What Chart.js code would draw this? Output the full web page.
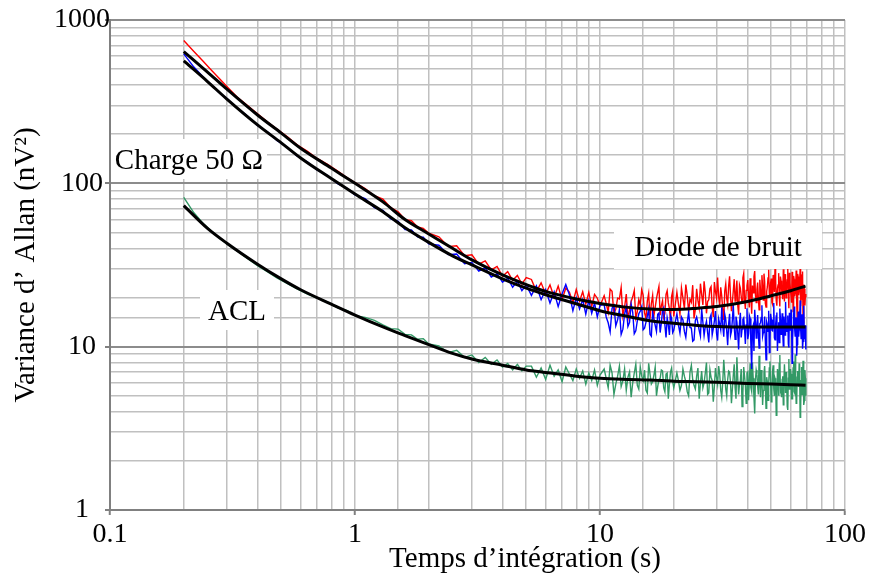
<!DOCTYPE html>
<html lang="fr">
<head>
<meta charset="utf-8">
<title>Variance d'Allan</title>
<script src="https://cdn.jsdelivr.net/npm/chart.js@4.4.1/dist/chart.umd.min.js"></script>
<style>
  html, body { margin: 0; padding: 0; background: #fff; }
  #graphe { display: block; }
</style>
</head>
<body>
<canvas id="graphe" width="870" height="575"></canvas>
<script>
// Temps d'intégration des mesures brutes (s)
const tauMesure = [
    0.2, 0.22, 0.24, 0.26, 0.28, 0.3, 0.33, 0.36, 0.4, 0.44, 0.48, 0.53, 0.58, 0.64, 0.7, 0.77, 0.85, 0.93, 1.0,
    1.1, 1.2, 1.3, 1.4, 1.5, 1.6, 1.7, 1.8, 1.9, 2.0,
    2.2, 2.4, 2.6, 2.8, 3.0, 3.2, 3.4, 3.6, 3.8, 4.0, 4.2, 4.4, 4.6, 4.8, 5.0,
    5.25, 5.5, 5.75, 6.0, 6.25, 6.5, 6.75, 7.0, 7.25, 7.5, 7.75, 8.0, 8.25, 8.5, 8.75, 9.0, 9.25, 9.5, 9.75, 10.0,
    10.4, 10.8, 11.2, 11.6, 12.0, 12.4, 12.8, 13.2, 13.6, 14.0, 14.4, 14.8, 15.2, 15.6, 16.0, 16.4, 16.8, 17.2, 17.6, 18.0, 18.4, 18.8, 19.2, 19.6, 20.0,
    20.6, 21.2, 21.8, 22.4, 23.0, 23.6, 24.2, 24.8, 25.4, 26.0,
    26.6, 27.2, 27.8, 28.4, 29.0, 29.6, 30.2, 30.8, 31.4, 32.0,
    32.6, 33.2, 33.8, 34.4, 35.0, 35.6, 36.2, 36.8, 37.4, 38.0,
    38.6, 39.2, 39.8, 40.4, 41.0, 41.6, 42.2, 42.8, 43.4, 44.0,
    44.6, 45.2, 45.8, 46.4, 47.0, 47.6, 48.2, 48.8, 49.4, 50.0,
    50.6, 51.2, 51.8, 52.4, 53.0, 53.6, 54.2, 54.8, 55.4, 56.0,
    56.6, 57.2, 57.8, 58.4, 59.0, 59.6, 60.2, 60.8, 61.4, 62.0,
    62.6, 63.2, 63.8, 64.4, 65.0, 65.6, 66.2, 66.8, 67.4, 68.0,
    68.6, 69.2
];

// Diode de bruit (rouge), nV²
const mesureDiode = [
    748, 642, 559, 491, 437, 392, 338, 304, 267, 237, 215, 193, 172, 157, 142, 131, 119, 108, 101,
    93, 84, 80, 71, 67, 60, 59, 54, 53, 49.5,
    47, 41, 41.5, 36, 36.5, 32, 33.5, 29.5, 31, 27, 28.8, 25.5, 27.3, 24.2, 26.5,
    25.8, 21.8, 24.6, 21.0, 23.9, 20.0, 23.5, 19.4, 22.8, 21.6, 18.6, 22.4, 19.0, 21.7, 18.2, 21.5, 17.6, 20.9, 19.8, 17.8,
    20.5, 16.2, 21.8, 17.0, 19.6, 15.4, 21.0, 16.8, 20.2, 15.0, 19.4, 22.3, 16.1, 19.0, 14.8, 20.6, 17.4, 21.5, 15.6, 19.1, 16.0, 22.0, 17.1, 20.3, 15.3,
    21.5, 15.8, 19.9, 24.0, 16.3, 18.7, 14.9, 22.6, 17.2, 20.8,
    25.1, 16.0, 19.4, 23.3, 15.2, 21.7, 26.5, 17.8, 20.4, 14.6,
    24.2, 18.1, 27.0, 16.5, 21.9, 19.0, 25.4, 15.7, 22.8, 18.4,
    28.1, 17.0, 23.6, 20.1, 26.2, 15.9, 21.4, 29.0, 18.6, 24.7,
    16.8, 22.3, 27.4, 19.3, 25.0, 17.5, 23.2, 29.6, 20.0, 26.1,
    18.2, 24.4, 30.3, 19.1, 22.7, 28.2, 17.6, 25.3, 21.0, 29.8,
    18.9, 26.6, 22.1, 30.1, 17.2, 24.8, 20.5, 28.7, 16.4, 25.9,
    21.3, 29.3, 15.1, 26.8, 22.0, 30.0, 19.6, 27.5, 14.0, 24.0,
    17.9, 21.0
];

// Charge 50 Ω (bleu), nV²
const mesureCharge = [
    620, 515, 448, 399, 358, 330, 289, 262, 226, 206, 183, 166, 147, 135, 121, 112, 99.5, 92.8, 85,
    80.5, 71, 68.2, 60.5, 58.6, 52.1, 51.9, 47.0, 46.8, 42.6,
    41.8, 36.6, 36.9, 32.2, 32.8, 29.0, 30.4, 26.7, 28.0, 24.8, 26.3, 23.1, 25.2, 22.0, 23.9,
    20.6, 23.6, 19.4, 22.4, 18.5, 21.7, 17.6, 21.0, 24.0, 20.8, 16.6, 19.9, 17.0, 19.4, 15.8, 19.2, 16.0, 18.5, 15.2, 17.9,
    18.1, 14.0, 17.2, 13.4, 16.9, 12.8, 17.5, 14.1, 16.2, 12.5, 15.9, 17.6, 13.0, 15.4, 11.9, 16.3, 13.5, 15.8, 12.2, 16.6, 13.6, 15.0, 11.8, 14.9, 12.6,
    15.9, 12.1, 14.6, 11.4, 16.3, 13.0, 11.0, 15.2, 12.6, 17.0,
    11.7, 14.3, 10.6, 15.7, 12.9, 16.5, 10.9, 13.8, 17.4, 11.5,
    14.7, 10.2, 15.9, 12.4, 18.0, 11.1, 14.2, 9.6, 16.1, 12.8,
    15.0, 10.4, 17.2, 12.0, 14.9, 7.3, 13.5, 16.8, 11.3, 15.6,
    9.8, 14.0, 17.9, 12.2, 15.3, 8.3, 13.7, 16.6, 10.7, 14.8,
    12.5, 18.5, 11.0, 15.4, 9.4, 14.1, 17.1, 11.9, 16.0, 10.1,
    13.9, 18.8, 12.3, 15.5, 9.9, 14.6, 16.9, 7.9, 13.2, 17.6,
    11.6, 15.1, 10.3, 16.4, 12.7, 19.2, 11.2, 15.8, 10.8, 17.8,
    12.0, 9.6
];

// ACL (vert), nV²
const mesureACL = [
    82, 66, 56.8, 50.9, 46.2, 42.6, 38.5, 35.0, 31.3, 28.7, 26.4, 24.3, 22.6, 21.0, 19.8, 18.8, 17.3, 16.6, 15.5,
    15.1, 14.5, 13.6, 12.9, 12.8, 11.9, 11.8, 11.1, 11.2, 10.4,
    10.1, 9.2, 9.5, 8.6, 8.9, 8.0, 8.6, 7.8, 8.3, 7.5, 7.9, 7.2, 7.8, 7.1, 7.6,
    7.6, 6.5, 7.4, 6.3, 7.7, 6.6, 7.2, 6.1, 7.5, 6.8, 6.2, 7.3, 6.4, 7.1, 5.9, 6.9, 6.2, 7.2, 5.8, 6.7,
    7.3, 5.6, 6.9, 5.9, 7.6, 6.2, 5.4, 7.0, 6.0, 7.8, 5.5, 6.6, 7.2, 5.2, 6.8, 6.1, 7.5, 5.7, 6.4, 7.1, 5.3, 6.9, 5.9, 7.4, 5.6,
    6.9, 5.4, 7.3, 6.1, 5.0, 7.7, 5.8, 6.6, 4.8, 7.1,
    6.0, 8.0, 5.2, 6.5, 4.6, 7.4, 5.9, 6.8, 4.9, 8.3,
    5.5, 6.3, 7.0, 4.5, 6.7, 5.6, 8.6, 5.1, 6.2, 4.3,
    7.5, 5.8, 6.9, 4.7, 7.9, 5.3, 6.4, 3.9, 7.2, 5.7,
    8.8, 4.9, 6.6, 5.4, 7.6, 4.2, 6.1, 5.9, 8.1, 4.6,
    7.0, 5.5, 6.4, 3.8, 7.3, 5.0, 8.9, 5.6, 6.3, 4.4,
    7.8, 5.2, 6.0, 4.1, 8.4, 5.7, 6.8, 4.8, 7.4, 5.3,
    9.0, 4.5, 6.5, 5.9, 7.9, 3.7, 6.2, 5.1, 8.2, 4.4,
    7.2, 5.0
];

// Mesures intermédiaires au-delà de 10 s (même ordre que ci-dessus)
const tauComplement = [
    10.6, 11.0, 11.4, 11.8, 12.2, 12.6, 13.0, 13.4, 13.8, 14.2, 14.6, 15.0, 15.4, 15.8, 16.2, 16.6, 17.0, 17.4, 17.8, 18.2, 18.6, 19.0, 19.4, 19.8,
    20.9, 21.5, 22.1, 22.7, 23.3, 23.9, 24.5, 25.1, 25.7, 26.3,
    26.9, 27.5, 28.1, 28.7, 29.3, 29.9, 30.5, 31.1, 31.7, 32.3,
    32.9, 33.5, 34.1, 34.7, 35.3, 35.9, 36.5, 37.1, 37.7, 38.3,
    38.9, 39.5, 40.1, 40.7, 41.3, 41.9, 42.5, 43.1, 43.7, 44.3,
    44.9, 45.5, 46.1, 46.7, 47.3, 47.9, 48.5, 49.1, 49.7, 50.3,
    50.9, 51.5, 52.1, 52.7, 53.3, 53.9, 54.5, 55.1, 55.7, 56.3,
    56.9, 57.5, 58.1, 58.7, 59.3, 59.9, 60.5, 61.1, 61.7, 62.3,
    62.9, 63.5, 64.1, 64.7, 65.3, 65.9, 66.5, 67.1, 67.7, 68.3,
    68.9
];
const complementDiode = [
    18.4, 22.5, 15.9, 19.8, 23.0, 17.5, 14.7, 18.9, 22.1, 16.4, 18.0, 20.7, 14.9, 21.2, 18.3, 15.5, 19.7, 23.4, 17.8, 15.1, 20.9, 18.6, 14.6, 21.8,
    18.3, 22.9, 17.1, 20.6, 19.5, 23.8, 16.9, 19.2, 24.3, 18.0,
    21.4, 18.9, 22.6, 17.4, 24.9, 19.8, 20.2, 23.1, 16.7, 21.9,
    19.7, 23.5, 20.4, 18.8, 25.9, 21.1, 17.9, 23.9, 20.3, 26.4,
    19.5, 22.1, 25.6, 17.4, 21.0, 23.7, 26.9, 20.7, 22.4, 19.9,
    25.7, 20.0, 23.5, 28.0, 18.4, 21.8, 26.3, 21.1, 24.6, 18.7,
    27.5, 21.6, 25.9, 17.8, 23.9, 20.4, 26.9, 22.5, 19.5, 24.1,
    27.8, 19.9, 25.6, 21.5, 28.3, 22.2, 18.6, 24.0, 27.1, 20.3,
    23.4, 18.5, 27.9, 20.7, 25.1, 17.7, 24.5, 28.9, 19.4, 22.6,
    20.2
];
const complementCharge = [
    15.2, 12.3, 17.9, 14.6, 11.9, 15.8, 13.3, 18.2, 12.0, 14.4, 16.5, 12.7, 14.1, 17.0, 11.6, 14.8, 12.4, 16.1, 14.0, 17.3, 11.4, 13.7, 15.6, 12.2,
    13.6, 15.2, 12.4, 14.0, 13.1, 10.8, 14.5, 13.9, 11.6, 14.1,
    13.3, 12.2, 15.0, 11.8, 14.4, 12.1, 14.8, 12.7, 13.5, 15.8,
    12.5, 13.8, 11.7, 14.6, 13.2, 15.3, 12.0, 13.9, 11.4, 14.7,
    12.9, 13.6, 11.1, 15.5, 10.2, 13.0, 9.4, 14.3, 13.4, 12.1,
    13.8, 15.1, 11.6, 13.3, 10.9, 14.2, 12.4, 9.2, 15.9, 12.6,
    14.4, 11.3, 13.6, 16.2, 12.8, 10.6, 14.9, 13.1, 12.2, 15.3,
    11.8, 14.0, 13.5, 10.4, 16.1, 12.5, 14.3, 11.0, 15.6, 12.9,
    14.2, 8.8, 13.4, 11.5, 15.0, 12.9, 13.8, 9.7, 14.5, 11.2,
    13.5
];
const complementACL = [
    6.4, 7.7, 5.1, 6.6, 5.7, 7.3, 6.5, 4.9, 6.9, 5.8, 7.5, 6.2, 5.4, 7.9, 5.9, 6.7, 5.0, 6.3, 7.2, 5.6, 6.8, 4.8, 7.0, 6.1,
    6.2, 5.8, 6.6, 5.3, 7.0, 6.3, 5.5, 7.4, 6.0, 5.6,
    6.9, 5.1, 7.2, 6.2, 5.7, 6.5, 7.6, 5.4, 6.1, 6.7,
    5.0, 7.1, 6.0, 5.5, 7.8, 4.8, 6.4, 5.9, 7.3, 5.2,
    6.6, 4.5, 7.0, 6.1, 5.6, 8.0, 4.9, 6.3, 6.8, 5.1,
    6.0, 7.2, 4.4, 6.9, 5.8, 6.5, 4.7, 7.4, 6.0, 5.3,
    7.7, 5.0, 6.2, 4.6, 6.8, 7.9, 5.4, 4.9, 6.6, 5.9,
    6.3, 7.0, 4.3, 6.4, 5.5, 7.3, 4.8, 6.1, 8.1, 5.2,
    6.0, 4.6, 7.1, 5.7, 6.6, 4.2, 7.5, 5.8, 6.2, 4.7,
    6.4
];

// Courbes ajustées (noir)
const tauAjust = [0.2, 0.25, 0.3, 0.4, 0.5, 0.6, 0.8, 1, 1.3, 1.6, 2, 2.5, 3, 4, 5, 6, 8, 10, 13, 16, 20, 25, 30, 40, 50, 60, 69];
const ajustDiode = [640, 480, 377, 262, 203, 164, 124, 100, 77, 60, 49, 40, 34, 27.5, 24, 21.8, 19.6, 18.4, 17.4, 17.0, 16.9, 17.2, 17.6, 18.9, 20.5, 22.0, 23.5];
const ajustCharge = [562, 420, 328, 228, 177, 143, 107, 86, 67, 53.5, 43.5, 36, 31.7, 26, 22.8, 20.8, 18.3, 16.6, 15.3, 14.4, 13.9, 13.5, 13.3, 13.2, 13.2, 13.2, 13.2];
const ajustACL = [73, 53, 43, 32, 26, 22.3, 18.2, 15.6, 13.2, 11.7, 10.3, 9.1, 8.4, 7.7, 7.2, 6.95, 6.6, 6.4, 6.3, 6.25, 6.15, 6.1, 6.05, 5.95, 5.9, 5.85, 5.8];

// Graduations affichées
const ticksX = [0.1, 1, 10, 100];
const ticksY = [1, 10, 100, 1000];

const titreX = 'Temps d’intégration (s)';
const titreY = 'Variance d’ Allan (nV²)';

document.addEventListener('DOMContentLoaded', function() {
    const police = '"Liberation Serif", "Times New Roman", serif';
    Chart.defaults.font.family = police;
    Chart.defaults.color = '#000';

    function points(taus, valeurs) {
        if (taus.length !== valeurs.length) console.warn('longueurs différentes', taus.length, valeurs.length);
        return taus.map((t, i) => ({ x: t, y: valeurs[i] })).sort((a, b) => a.x - b.x);
    }

    function estDans(liste, v) {
        return liste.some(t => Math.abs(t - v) / t < 1e-6);
    }

    function courbe(label, donnees, couleur, epaisseur, ordre) {
        return {
            label: label,
            data: donnees,
            borderColor: couleur,
            borderWidth: epaisseur,
            pointRadius: 0,
            fill: false,
            order: ordre,
            cubicInterpolationMode: epaisseur > 2 ? 'monotone' : 'default'
        };
    }

    const tauTout = tauMesure.concat(tauComplement);

    // Étiquettes dans le graphique et titre de l'axe x
    const etiquettes = {
        id: 'etiquettes',
        afterDatasetsDraw(chart) {
            const ctx = chart.ctx;
            const boites = [
                { texte: 'Charge 50 Ω', x: 189, y: 159, l: 156, h: 40 },
                { texte: 'Diode de bruit', x: 718, y: 246, l: 208, h: 46 },
                { texte: 'ACL', x: 237, y: 310, l: 74, h: 40 }
            ];
            ctx.save();
            ctx.font = '29px ' + police;
            ctx.textAlign = 'center';
            ctx.textBaseline = 'middle';
            boites.forEach(b => {
                ctx.fillStyle = '#fff';
                ctx.fillRect(b.x - b.l / 2, b.y - b.h / 2, b.l, b.h);
                ctx.fillStyle = '#000';
                ctx.fillText(b.texte, b.x, b.y + 2);
            });
            ctx.fillText(titreX, 525, 559);
            ctx.restore();
        }
    };

    const ctx = document.getElementById('graphe').getContext('2d');
    new Chart(ctx, {
        type: 'line',
        data: {
            datasets: [
                courbe('Ajustement diode', points(tauAjust, ajustDiode), '#000', 3, 0),
                courbe('Ajustement charge', points(tauAjust, ajustCharge), '#000', 3, 0),
                courbe('Ajustement ACL', points(tauAjust, ajustACL), '#000', 3, 0),
                courbe('Charge 50 Ω', points(tauTout, mesureCharge.concat(complementCharge)), '#0000ff', 1.4, 1),
                courbe('Diode de bruit', points(tauTout, mesureDiode.concat(complementDiode)), '#ff0000', 1.4, 2),
                courbe('ACL', points(tauTout, mesureACL.concat(complementACL)), '#339966', 1.4, 3)
            ]
        },
        options: {
            responsive: false,
            animation: false,
            events: [],
            layout: { padding: { top: 20, right: 25, left: 0, bottom: 0 } },
            plugins: { legend: { display: false }, tooltip: { enabled: false } },
            scales: {
                x: {
                    type: 'logarithmic',
                    min: 0.1,
                    max: 100,
                    afterFit: s => { s.height = 65; },
                    border: { display: true, color: '#808080', width: 2 },
                    grid: {
                        color: '#c0c0c0',
                        lineWidth: 1.5,
                        tickLength: 5,
                        tickWidth: 2,
                        tickColor: c => estDans(ticksX, c.tick.value) ? '#808080' : 'rgba(0,0,0,0)'
                    },
                    ticks: {
                        autoSkip: false,
                        maxRotation: 0,
                        padding: 3,
                        font: { size: 28 },
                        callback: v => estDans(ticksX, v) ? String(v) : ''
                    }
                },
                y: {
                    type: 'logarithmic',
                    min: 1,
                    max: 1000,
                    afterFit: s => { s.width = 110; },
                    border: { display: true, color: '#808080', width: 2 },
                    grid: {
                        color: c => estDans(ticksY, c.tick.value) ? '#8c8c8c' : '#c0c0c0',
                        lineWidth: c => estDans(ticksY, c.tick.value) ? 2 : 1.5,
                        tickLength: 5,
                        tickWidth: 2,
                        tickColor: c => estDans(ticksY, c.tick.value) ? '#808080' : 'rgba(0,0,0,0)'
                    },
                    ticks: {
                        autoSkip: false,
                        padding: -5,
                        crossAlign: 'center',
                        font: { size: 28 },
                        callback: v => estDans(ticksY, v) ? String(v) : ''
                    },
                    title: {
                        display: true,
                        text: titreY,
                        font: { size: 29 },
                        padding: { top: 9, bottom: 0 }
                    }
                }
            }
        },
        plugins: [etiquettes]
    });
});
</script>
</body>
</html>
